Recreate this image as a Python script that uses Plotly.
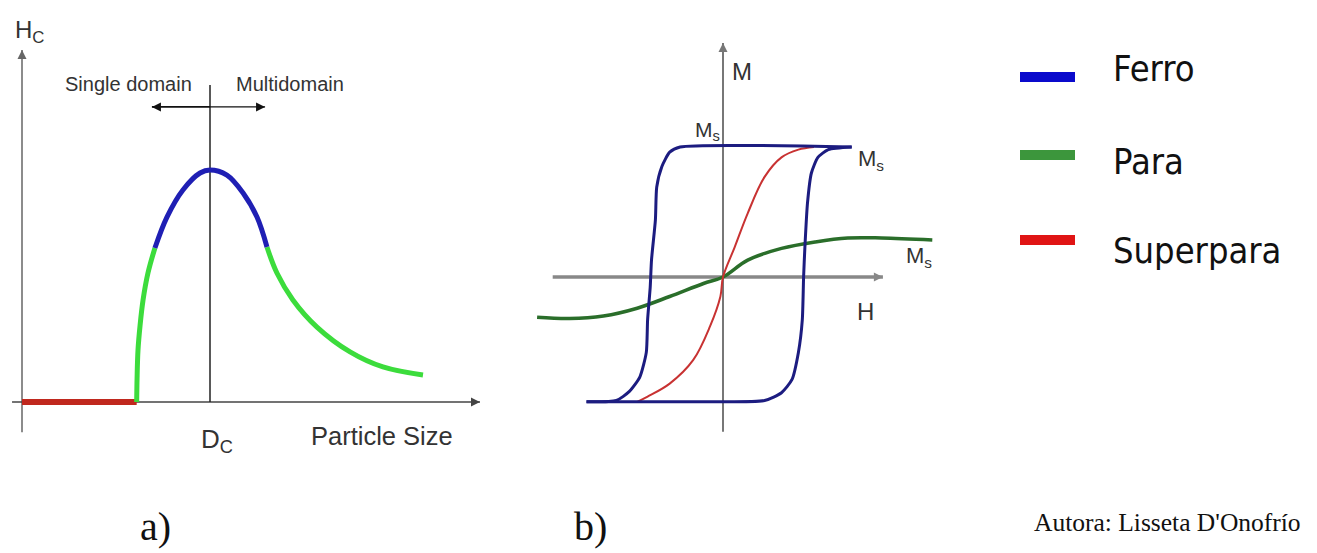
import plotly.graph_objects as go

W, H = 1317, 553

# ---------------- Panel a) data: coercivity Hc vs particle size (Dc = 1, peak Hc = 1)
superpara_a_size = [0.0, 0.61]
superpara_a_hc = [0.0, 0.0]
para_rise_size = [0.61, 0.612, 0.617, 0.628, 0.644, 0.67, 0.707]
para_rise_hc = [0.0, 0.10, 0.224, 0.33, 0.44, 0.556, 0.664]
ferro_a_size = [0.707, 0.771, 0.856, 0.947, 1.0, 1.09, 1.176, 1.25, 1.303]
ferro_a_hc = [0.664, 0.797, 0.914, 0.987, 1.0, 0.978, 0.901, 0.797, 0.668]
para_fall_size = [1.303, 1.356, 1.441, 1.569, 1.745, 1.92, 2.133]
para_fall_hc = [0.668, 0.556, 0.44, 0.323, 0.216, 0.151, 0.116]

# axis extents for panel a
a_hc_axis = [-0.13, 1.517]
a_size_axis = [-0.053, 2.436]
a_dc_line = [0.0, 1.366]
a_domain_arrow_y = 1.272
a_domain_arrow_left = 0.691
a_domain_arrow_right = 1.293

# ---------------- Panel b) data: M vs H loops
ferro_up_h = [0.99, -0.33, -0.41, -0.47, -0.51, -0.52, -0.55, -0.56, -0.58, -0.59, -0.64, -0.72, -0.82, -1.05]
ferro_up_m = [1.0, 1.0, 0.96, 0.85, 0.69, 0.44, 0.13, -0.08, -0.33, -0.58, -0.77, -0.88, -0.95, -0.96]
ferro_dn_h = [-1.05, -0.06, 0.32, 0.45, 0.53, 0.58, 0.61, 0.62, 0.63, 0.65, 0.68, 0.73, 0.81, 0.99]
ferro_dn_m = [-0.96, -0.96, -0.95, -0.89, -0.79, -0.58, -0.33, 0.0, 0.23, 0.57, 0.80, 0.92, 0.98, 1.0]
superpara_b_h = [-0.66, -0.58, -0.41, -0.23, -0.10, -0.02, 0.0, 0.09, 0.19, 0.32, 0.45, 0.58, 0.70]
superpara_b_m = [-0.96, -0.92, -0.82, -0.64, -0.38, -0.15, 0.0, 0.23, 0.49, 0.77, 0.92, 0.98, 1.0]
para_b_h = [-1.43, -1.18, -0.92, -0.66, -0.41, -0.15, 0.0, 0.19, 0.45, 0.71, 0.96, 1.22, 1.61]
para_b_m = [-0.31, -0.32, -0.30, -0.24, -0.15, -0.05, 0.0, 0.13, 0.22, 0.27, 0.30, 0.30, 0.285]

b_m_axis = [-1.19, 1.8]
b_h_axis = [-1.31, 1.23]

legend_names = ["Ferro", "Para", "Superpara"]
legend_colors = ["#0a0acc", "#3c963c", "#e01414"]

# ---------------- layout geometry (pixels)
A_OX, A_OY, A_SX, A_SY = 22, 402, 188, 232
B_OX, B_OY, B_S = 723, 277, 130
A_DOM = (0, 500)
B_DOM = (515, 985)


def px(x):
    return x / W


def py(y):
    return 1 - y / H


fig = go.Figure()

# panel a curves
green_a = "#3cdc3c"
blue_a = "#1f1fb4"
red_a = "#c0281e"
fig.add_trace(go.Scatter(x=superpara_a_size, y=superpara_a_hc, mode="lines",
                         line=dict(color=red_a, width=6), xaxis="x", yaxis="y"))
fig.add_trace(go.Scatter(x=para_rise_size, y=para_rise_hc, mode="lines",
                         line=dict(color=green_a, width=5, shape="spline"), xaxis="x", yaxis="y"))
fig.add_trace(go.Scatter(x=para_fall_size, y=para_fall_hc, mode="lines",
                         line=dict(color=green_a, width=5, shape="spline"), xaxis="x", yaxis="y"))
fig.add_trace(go.Scatter(x=ferro_a_size, y=ferro_a_hc, mode="lines",
                         line=dict(color=blue_a, width=5, shape="spline"), xaxis="x", yaxis="y"))
# panel a arrowheads
fig.add_trace(go.Scatter(
    x=[0, a_size_axis[1], a_domain_arrow_left, a_domain_arrow_right],
    y=[a_hc_axis[1], 0, a_domain_arrow_y, a_domain_arrow_y], mode="markers",
    marker=dict(symbol=["arrow-up", "arrow-right", "arrow-left", "arrow-right"], size=9,
                color=["#666", "#444", "#111", "#111"], line=dict(width=0)),
    xaxis="x", yaxis="y"))

# panel b curves
fig.add_trace(go.Scatter(x=para_b_h, y=para_b_m, mode="lines",
                         line=dict(color="#2a6e2a", width=3.5, shape="spline"), xaxis="x2", yaxis="y2"))
fig.add_trace(go.Scatter(x=superpara_b_h, y=superpara_b_m, mode="lines",
                         line=dict(color="#c83232", width=2, shape="spline"), xaxis="x2", yaxis="y2"))
fig.add_trace(go.Scatter(x=ferro_up_h, y=ferro_up_m, mode="lines",
                         line=dict(color="#1c1c80", width=3, shape="spline", smoothing=0.6), xaxis="x2", yaxis="y2"))
fig.add_trace(go.Scatter(x=ferro_dn_h, y=ferro_dn_m, mode="lines",
                         line=dict(color="#1c1c80", width=3, shape="spline", smoothing=0.6), xaxis="x2", yaxis="y2"))
# panel b arrowheads
fig.add_trace(go.Scatter(
    x=[0, b_h_axis[1]], y=[b_m_axis[1], 0], mode="markers",
    marker=dict(symbol=["arrow-up", "arrow-right"], size=9, color=["#777", "#888"], line=dict(width=0)),
    xaxis="x2", yaxis="y2"))

shapes = []
# panel a axes
shapes.append(dict(type="line", xref="x", yref="y", x0=0, x1=0, y0=a_hc_axis[0], y1=a_hc_axis[1],
                   line=dict(color="#666", width=1.5), layer="below"))
shapes.append(dict(type="line", xref="x", yref="y", x0=a_size_axis[0], x1=a_size_axis[1], y0=0, y1=0,
                   line=dict(color="#444", width=1.5), layer="below"))
shapes.append(dict(type="line", xref="x", yref="y", x0=1, x1=1, y0=a_dc_line[0], y1=a_dc_line[1],
                   line=dict(color="#222", width=1.5), layer="below"))
shapes.append(dict(type="line", xref="x", yref="y", x0=a_domain_arrow_left, x1=1,
                   y0=a_domain_arrow_y, y1=a_domain_arrow_y, line=dict(color="#111", width=1.8), layer="below"))
shapes.append(dict(type="line", xref="x", yref="y", x0=1, x1=a_domain_arrow_right,
                   y0=a_domain_arrow_y, y1=a_domain_arrow_y, line=dict(color="#111", width=1.2), layer="below"))
# panel b axes
shapes.append(dict(type="line", xref="x2", yref="y2", x0=0, x1=0, y0=b_m_axis[0], y1=b_m_axis[1],
                   line=dict(color="#777", width=2), layer="below"))
shapes.append(dict(type="line", xref="x2", yref="y2", x0=b_h_axis[0], x1=b_h_axis[1], y0=0, y1=0,
                   line=dict(color="#888", width=3.5), layer="below"))
# legend swatches
for i, c in enumerate(legend_colors):
    yy = [77, 155, 240][i]
    shapes.append(dict(type="line", xref="paper", yref="paper", x0=px(1020), x1=px(1075),
                       y0=py(yy), y1=py(yy), line=dict(color=c, width=10)))

ann = []

SANS = "Liberation Sans, Arial"
COND = "DejaVu Sans Condensed, DejaVu Sans"
SERIF = "Liberation Serif, Times New Roman"


def text(t, x, y, size, family, color="#222", xanchor="center"):
    ann.append(dict(text=t, x=px(x), y=py(y), xref="paper", yref="paper", showarrow=False,
                    xanchor=xanchor, yanchor="middle", font=dict(size=size, family=family, color=color)))


text("H<sub>C</sub>", 29, 32, 24, SANS, "#333")
text("Single domain", 128, 84, 20, SANS, "#333")
text("Multidomain", 290, 84, 20, SANS, "#333")
text("D<sub>C</sub>", 217, 440, 26, SANS, "#333")
text("Particle Size", 382, 436, 25.5, SANS, "#333")

text("M", 742, 71, 24, SANS, "#333")
text("M<sub>s</sub>", 707, 131, 21, SANS, "#333")
text("M<sub>s</sub>", 856, 160, 22, SANS, "#333", "left")
text("M<sub>s</sub>", 904, 257, 22, SANS, "#333", "left")
text("H", 865, 311, 24, SANS, "#333")

for i, name in enumerate(legend_names):
    yy = [69, 161, 251][i]
    text(name, 1111, yy, 36, COND, "#111", "left")

text("a)", 155, 526, 40, SERIF, "#111")
text("b)", 590, 526, 40, SERIF, "#111")
text("Autora: Lisseta D'Onofrío", 1167, 522, 25.5, SERIF, "#111")

ax_common = dict(visible=False, showgrid=False, zeroline=False, fixedrange=True)
fig.update_layout(
    width=W, height=H, margin=dict(l=0, r=0, t=0, b=0),
    paper_bgcolor="white", plot_bgcolor="white", showlegend=False,
    xaxis=dict(domain=[A_DOM[0] / W, A_DOM[1] / W],
               range=[(A_DOM[0] - A_OX) / A_SX, (A_DOM[1] - A_OX) / A_SX], **ax_common),
    yaxis=dict(domain=[0, 1], range=[(A_OY - H) / A_SY, A_OY / A_SY], **ax_common),
    xaxis2=dict(domain=[B_DOM[0] / W, B_DOM[1] / W],
                range=[(B_DOM[0] - B_OX) / B_S, (B_DOM[1] - B_OX) / B_S], anchor="y2", **ax_common),
    yaxis2=dict(domain=[0, 1], range=[(B_OY - H) / B_S, B_OY / B_S], anchor="x2", **ax_common),
    shapes=shapes, annotations=ann,
)

fig.write_html("out.html", config={"displayModeBar": False},
               post_script="document.body.style.margin='0px';document.body.style.overflow='hidden';")
